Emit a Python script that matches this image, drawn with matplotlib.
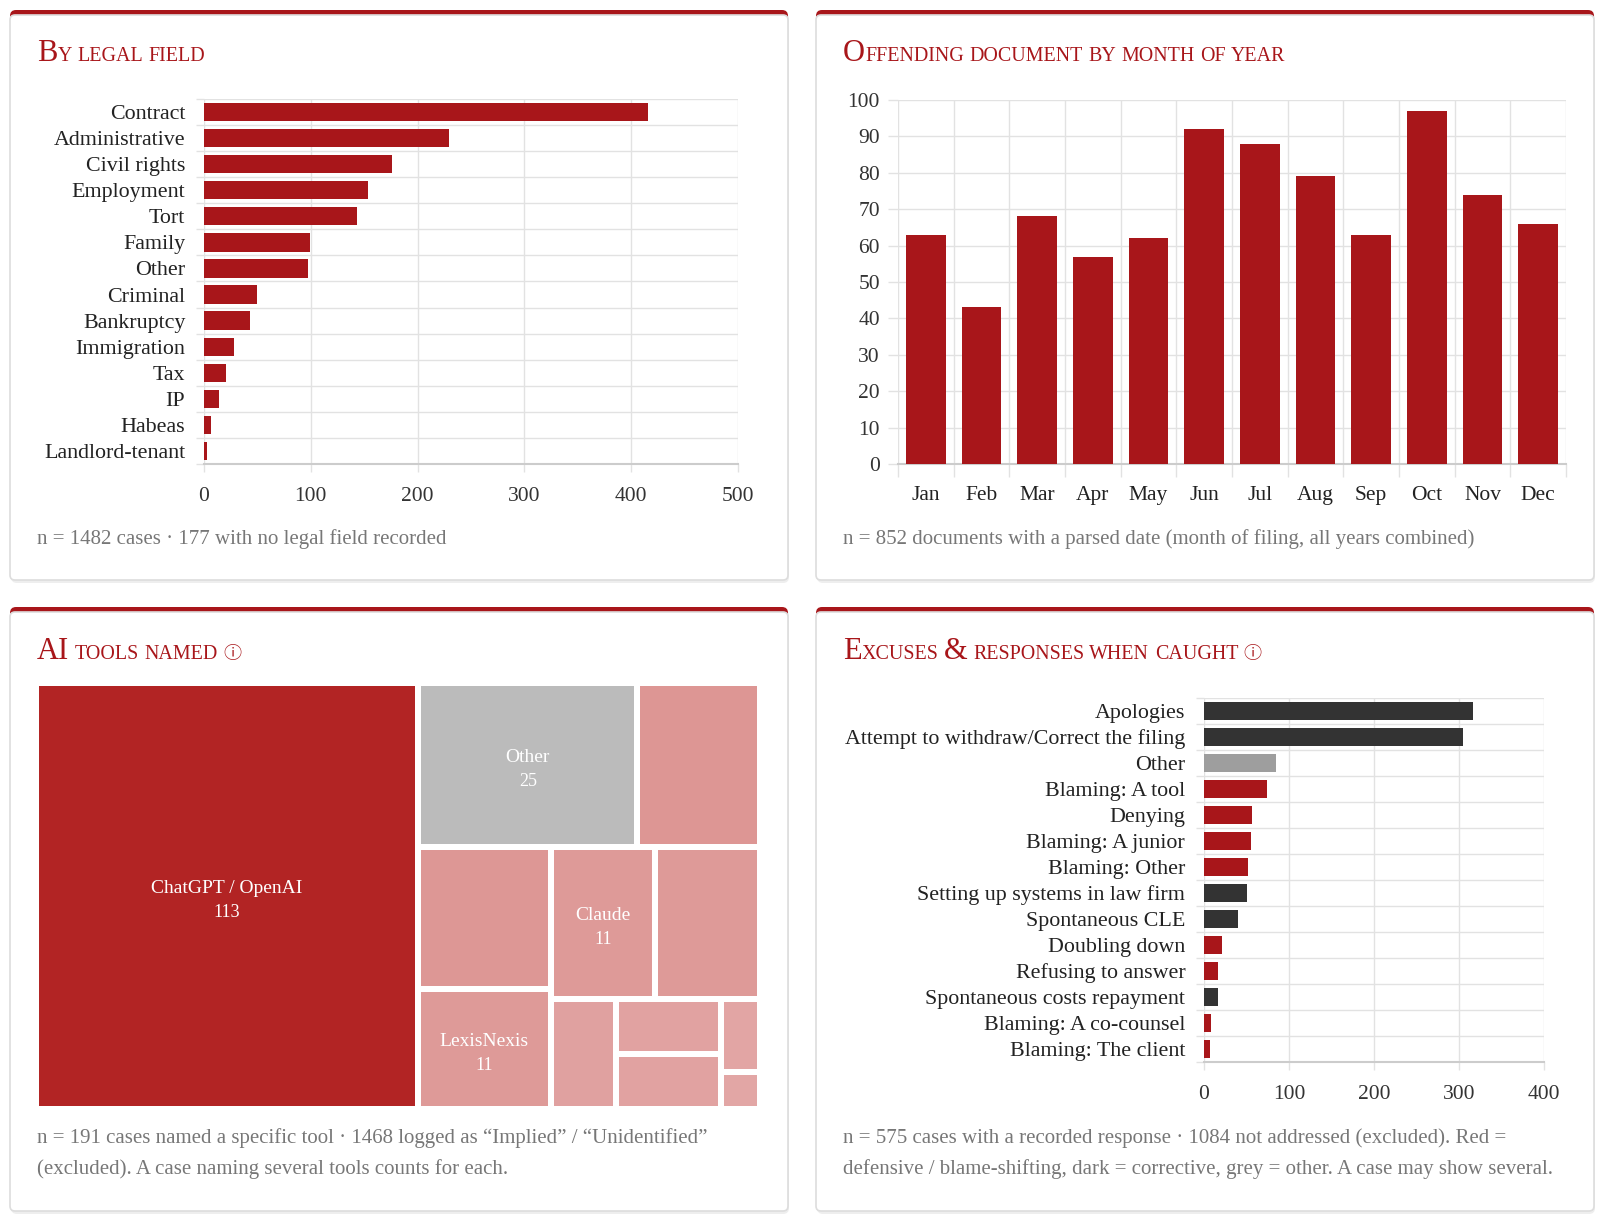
import matplotlib
matplotlib.use('Agg')
from matplotlib import pyplot as plt
from matplotlib.patches import FancyBboxPatch, Rectangle
import numpy as np

plt.rcParams['font.family'] = ['Liberation Serif', 'DejaVu Sans']

# ---- data ----
field_labels = ['Contract', 'Administrative', 'Civil rights', 'Employment', 'Tort', 'Family', 'Other',
                'Criminal', 'Bankruptcy', 'Immigration', 'Tax', 'IP', 'Habeas', 'Landlord-tenant']
field_counts = [416, 229, 176, 154, 143, 99, 97, 50, 43, 28, 21, 14, 7, 3]

months = ['Jan', 'Feb', 'Mar', 'Apr', 'May', 'Jun', 'Jul', 'Aug', 'Sep', 'Oct', 'Nov', 'Dec']
month_counts = [63, 43, 68, 57, 62, 92, 88, 79, 63, 97, 74, 66]

# treemap tiles, largest first (unlabelled tiles carry no name in the picture)
tool_names = ['ChatGPT / OpenAI', 'Other', '', '', 'LexisNexis', 'Claude', '', '', '', '', '', '']
tool_counts = [113, 25, 14, 13, 11, 11, 11, 5, 4, 4, 2, 1]

excuse_labels = ['Apologies', 'Attempt to withdraw/Correct the filing', 'Other', 'Blaming: A tool',
                 'Denying', 'Blaming: A junior', 'Blaming: Other', 'Setting up systems in law firm',
                 'Spontaneous CLE', 'Doubling down', 'Refusing to answer', 'Spontaneous costs repayment',
                 'Blaming: A co-counsel', 'Blaming: The client']
excuse_counts = [317, 305, 85, 74, 57, 55, 52, 50, 40, 21, 17, 16, 8, 7]
excuse_kind = ['corrective', 'corrective', 'other', 'defensive', 'defensive', 'defensive', 'defensive',
               'corrective', 'corrective', 'defensive', 'defensive', 'corrective', 'defensive', 'defensive']

RED = '#a8161a'
KIND_COLORS = {'defensive': '#a8161a', 'corrective': '#333333', 'other': '#9e9e9e'}
GRID = '#e2e2e2'
NOTE = '#777777'

W, H = 1600, 1217
fig = plt.figure(figsize=(16, 12.17), dpi=100)
fig.patch.set_facecolor('white')
bg = fig.add_axes([0, 0, 1, 1], zorder=0)
bg.set_xlim(0, W)
bg.set_ylim(H, 0)
bg.axis('off')
renderer = fig.canvas.get_renderer()


def px_axes(x0, y0, x1, y1):
    ax = fig.add_axes([x0 / W, 1 - y1 / H, (x1 - x0) / W, (y1 - y0) / H], zorder=2)
    ax.set_facecolor('none')
    return ax


def card(x0, y0, x1, y1):
    bg.add_patch(FancyBboxPatch((x0 + 1, y0 + 3), x1 - x0, y1 - y0, boxstyle='round,pad=0,rounding_size=6',
                                fc='#eeeeee', ec='none'))
    bg.add_patch(FancyBboxPatch((x0, y0), x1 - x0, y1 - y0, boxstyle='round,pad=0,rounding_size=6',
                                fc=RED, ec='none'))
    bg.add_patch(FancyBboxPatch((x0, y0 + 5), x1 - x0, y1 - y0 - 5, boxstyle='round,pad=0,rounding_size=5',
                                fc='white', ec='#dddddd', lw=1.2))


def smallcaps_title(x, y, text, big=22, small=14.4):
    '''draws a fake small-caps title piece by piece'''
    space = 0.27 * small * 100 / 72
    cx = x
    for wi, word in enumerate(text.split(' ')):
        if wi > 0:
            cx += space
        runs = []
        for ch in word:
            kind = 'icon' if ch == 'ⓘ' else ('big' if (ch.isupper() or ch == '&') else 'small')
            if runs and runs[-1][0] == kind:
                runs[-1][1] += ch
            else:
                runs.append([kind, ch])
        for kind, s in runs:
            if kind == 'icon':
                t = bg.text(cx, y, s, fontsize=13, color=RED, va='baseline', ha='left',
                            family=['Noto Sans CJK JP', 'DejaVu Sans'])
            elif kind == 'big':
                t = bg.text(cx, y, s, fontsize=big, color=RED, va='baseline', ha='left')
            else:
                t = bg.text(cx, y, s.upper(), fontsize=small, color=RED, va='baseline', ha='left')
            cx += t.get_window_extent(renderer).width


def note(x, y, lines):
    for i, line in enumerate(lines):
        bg.text(x, y + i * 31, line, fontsize=15, color=NOTE, va='center', ha='left')


def hbar_panel(ax, labels, values, colors, xmax, step):
    n = len(labels)
    pos = np.arange(n)
    ax.barh(pos, values, height=0.7, color=colors, zorder=3)
    ax.set_ylim(n - 0.5, -0.5)
    ax.set_xlim(0, xmax)
    ax.set_yticks(pos)
    ax.set_yticklabels(labels, fontsize=15.8, color='#222222')
    ax.set_yticks(np.arange(n + 1) - 0.5, minor=True)
    ax.set_xticks(np.arange(0, xmax + 1, step))
    ax.tick_params(axis='y', which='major', length=0, pad=13.5)
    ax.tick_params(axis='y', which='minor', length=6, color=GRID, width=1)
    ax.tick_params(axis='x', length=6, color=GRID, width=1, pad=10.5, labelsize=15.5, labelcolor='#333333')
    ax.grid(axis='x', which='major', color=GRID, lw=1)
    ax.grid(axis='y', which='minor', color=GRID, lw=1)
    ax.set_axisbelow(True)
    for s in ['top', 'right', 'left']:
        ax.spines[s].set_visible(False)
    ax.spines['bottom'].set_color('#cccccc')
    ax.spines['bottom'].set_linewidth(1.5)


def squarify(values, x, y, w, h):
    '''squarified treemap layout, values already scaled to area'''
    def worst(row, side):
        s = sum(row)
        return max(max(side * side * r / (s * s), s * s / (side * side * r)) for r in row)

    rects = []
    vals = list(values)
    while vals:
        side = min(w, h)
        row = [vals[0]]
        i = 1
        while i < len(vals) and worst(row + [vals[i]], side) <= worst(row, side):
            row.append(vals[i])
            i += 1
        s = sum(row)
        if w >= h:
            cw = s / h
            yy = y
            for v in row:
                rects.append((x, yy, cw, v / cw))
                yy += v / cw
            x += cw
            w -= cw
        else:
            rh = s / w
            xx = x
            for v in row:
                rects.append((xx, y, v / rh, rh))
                xx += v / rh
            y += rh
            h -= rh
        vals = vals[i:]
    return rects


# ---- cards ----
card(10, 10, 788, 580)
card(816, 10, 1594, 580)
card(10, 607, 788, 1211)
card(816, 607, 1594, 1211)

smallcaps_title(37, 61, 'By legal field')
smallcaps_title(843, 61, 'Offending document by month of year')
smallcaps_title(37, 659, 'AI tools named ⓘ')
smallcaps_title(843, 659, 'Excuses & responses when caught ⓘ')

# ---- by legal field ----
ax1 = px_axes(204, 99, 738, 464)
hbar_panel(ax1, field_labels, field_counts, RED, 500, 100)
note(37, 539, ['n = 1482 cases · 177 with no legal field recorded'])

# ---- by month ----
ax2 = px_axes(898, 100, 1566, 464)
xm = np.arange(len(months))
ax2.bar(xm, month_counts, width=0.71, color=RED, zorder=3)
ax2.set_xlim(-0.5, len(months) - 0.5)
ax2.set_ylim(0, 100)
ax2.set_xticks(xm)
ax2.set_xticklabels(months, fontsize=15.5, color='#222222')
ax2.set_xticks(np.arange(len(months) + 1) - 0.5, minor=True)
ax2.set_yticks(np.arange(0, 101, 10))
ax2.tick_params(axis='x', which='major', length=0, pad=15.5)
ax2.tick_params(axis='x', which='minor', length=9, color=GRID, width=1)
ax2.tick_params(axis='y', length=7, color=GRID, width=1, pad=6, labelsize=15.5, labelcolor='#333333')
ax2.grid(axis='x', which='minor', color=GRID, lw=1)
ax2.grid(axis='y', which='major', color=GRID, lw=1)
ax2.set_axisbelow(True)
for s in ['top', 'right', 'left']:
    ax2.spines[s].set_visible(False)
ax2.spines['bottom'].set_color('#cccccc')
ax2.spines['bottom'].set_linewidth(1.5)
note(843, 539, ['n = 852 documents with a parsed date (month of filing, all years combined)'])

# ---- treemap of AI tools ----
ax3 = px_axes(39, 686, 757, 1106)
tw, th, gap = 718, 420, 6
ax3.set_xlim(0, tw)
ax3.set_ylim(th, 0)
ax3.axis('off')
total = float(sum(tool_counts))
areas = [c / total * (tw + gap) * (th + gap) for c in tool_counts]
rects = squarify(areas, 0, 0, tw + gap, th + gap)
for i, (name, cnt, (rx, ry, rw, rh)) in enumerate(zip(tool_names, tool_counts, rects)):
    if i == 0:
        col = '#b22424'
    elif name == 'Other':
        col = '#bbbbbb'
    else:
        f = (14 - min(cnt, 14)) / 13.0
        c0 = np.array([221, 150, 148]) / 255.0
        c1 = np.array([226, 166, 165]) / 255.0
        col = tuple(c0 + (c1 - c0) * f)
    ax3.add_patch(Rectangle((rx, ry), rw - gap, rh - gap, fc=col, ec='none'))
    if name:
        cx = rx + (rw - gap) / 2
        cy = ry + (rh - gap) / 2
        ax3.text(cx, cy - 8, name, color='white', fontsize=14, ha='center', va='center')
        ax3.text(cx, cy + 16, str(cnt), color='white', fontsize=13, ha='center', va='center')
note(37, 1138, ['n = 191 cases named a specific tool · 1468 logged as “Implied” / “Unidentified”',
                '(excluded). A case naming several tools counts for each.'])

# ---- excuses ----
ax4 = px_axes(1204, 698, 1544, 1062)
hbar_panel(ax4, excuse_labels, excuse_counts, [KIND_COLORS[k] for k in excuse_kind], 400, 100)
note(843, 1138, ['n = 575 cases with a recorded response · 1084 not addressed (excluded). Red =',
                 'defensive / blame-shifting, dark = corrective, grey = other. A case may show several.'])

fig.savefig('out.png', dpi=100, facecolor='white')
